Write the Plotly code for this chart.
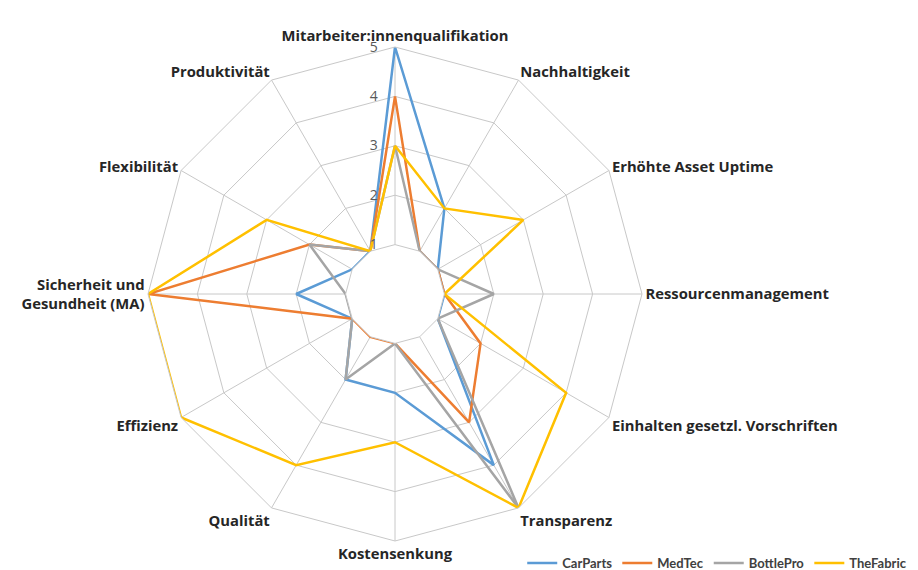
import plotly.graph_objects as go

categories = ["Mitarbeiter:innenqualifikation", "Nachhaltigkeit", "Erhöhte Asset Uptime",
              "Ressourcenmanagement", "Einhalten gesetzl. Vorschriften", "Transparenz",
              "Kostensenkung", "Qualität", "Effizienz", "Sicherheit und Gesundheit (MA)",
              "Flexibilität", "Produktivität"]
tick_labels = ["Mitarbeiter:innenqualifikation", "Nachhaltigkeit", "Erhöhte Asset Uptime",
               "Ressourcenmanagement", "Einhalten gesetzl. Vorschriften", "Transparenz",
               "Kostensenkung", "Qualität", "Effizienz", "Sicherheit und<br>Gesundheit (MA)",
               "Flexibilität", "Produktivität"]

carparts = [5, 2, 1, 1, 1, 4, 2, 2, 1, 2, 1, 1]
medtec = [4, 1, 1, 1, 2, 3, 1, 1, 1, 5, 2, 1]
bottlepro = [3, 1, 1, 2, 1, 5, 1, 2, 1, 1, 2, 1]
thefabric = [3, 2, 3, 1, 4, 5, 3, 4, 5, 5, 3, 1]

series_names = ["CarParts", "MedTec", "BottlePro", "TheFabric"]
series_values = [carparts, medtec, bottlepro, thefabric]
colors = ["#5B9BD5", "#ED7D31", "#A5A5A5", "#FFC000"]
radial_ticks = [1, 2, 3, 4, 5]

fig = go.Figure()
for name, vals, col in zip(series_names, series_values, colors):
    fig.add_trace(go.Scatterpolar(
        r=vals + vals[:1],
        theta=categories + categories[:1],
        mode="lines",
        name="<b>" + name + "</b>",
        line=dict(color=col, width=2.5),
    ))

W, H = 918, 570
cx, cy, R = 387, 286, 247
pad = "\u00a0" * 4
fig.update_layout(
    width=W, height=H,
    margin=dict(l=0, r=0, t=0, b=0),
    paper_bgcolor="white",
    plot_bgcolor="white",
    font=dict(family="Open Sans, Liberation Sans, sans-serif", color="#262626"),
    polar=dict(
        domain=dict(x=[(cx - R) / W, (cx + R) / W], y=[(H - cy - R) / H, (H - cy + R) / H]),
        bgcolor="white",
        gridshape="linear",
        hole=0.2,
        radialaxis=dict(
            range=[1, 5],
            tickvals=radial_ticks,
            ticktext=[str(t) + pad for t in radial_ticks],
            angle=90,
            side="counterclockwise",
            tickangle=90,
            showline=False,
            gridcolor="#C8C8C8",
            gridwidth=1,
            ticks="",
            tickfont=dict(size=14, color="#595959"),
        ),
        angularaxis=dict(
            direction="clockwise",
            rotation=90,
            tickmode="array",
            tickvals=categories,
            ticktext=tick_labels,
            gridcolor="#C8C8C8",
            linecolor="#C8C8C8",
            linewidth=1,
            ticks="",
            tickfont=dict(size=14.8, color="#262626", family="Open Sans, sans-serif", weight="bold"),
        ),
    ),
    legend=dict(
        orientation="h",
        x=0.985, xanchor="right",
        y=0.0, yanchor="bottom",
        bgcolor="rgba(0,0,0,0)",
        font=dict(size=13, color="#404040", family="Lato, sans-serif"),
        itemwidth=30,
        tracegroupgap=0,
    ),
)

fig.write_html("out.html")
